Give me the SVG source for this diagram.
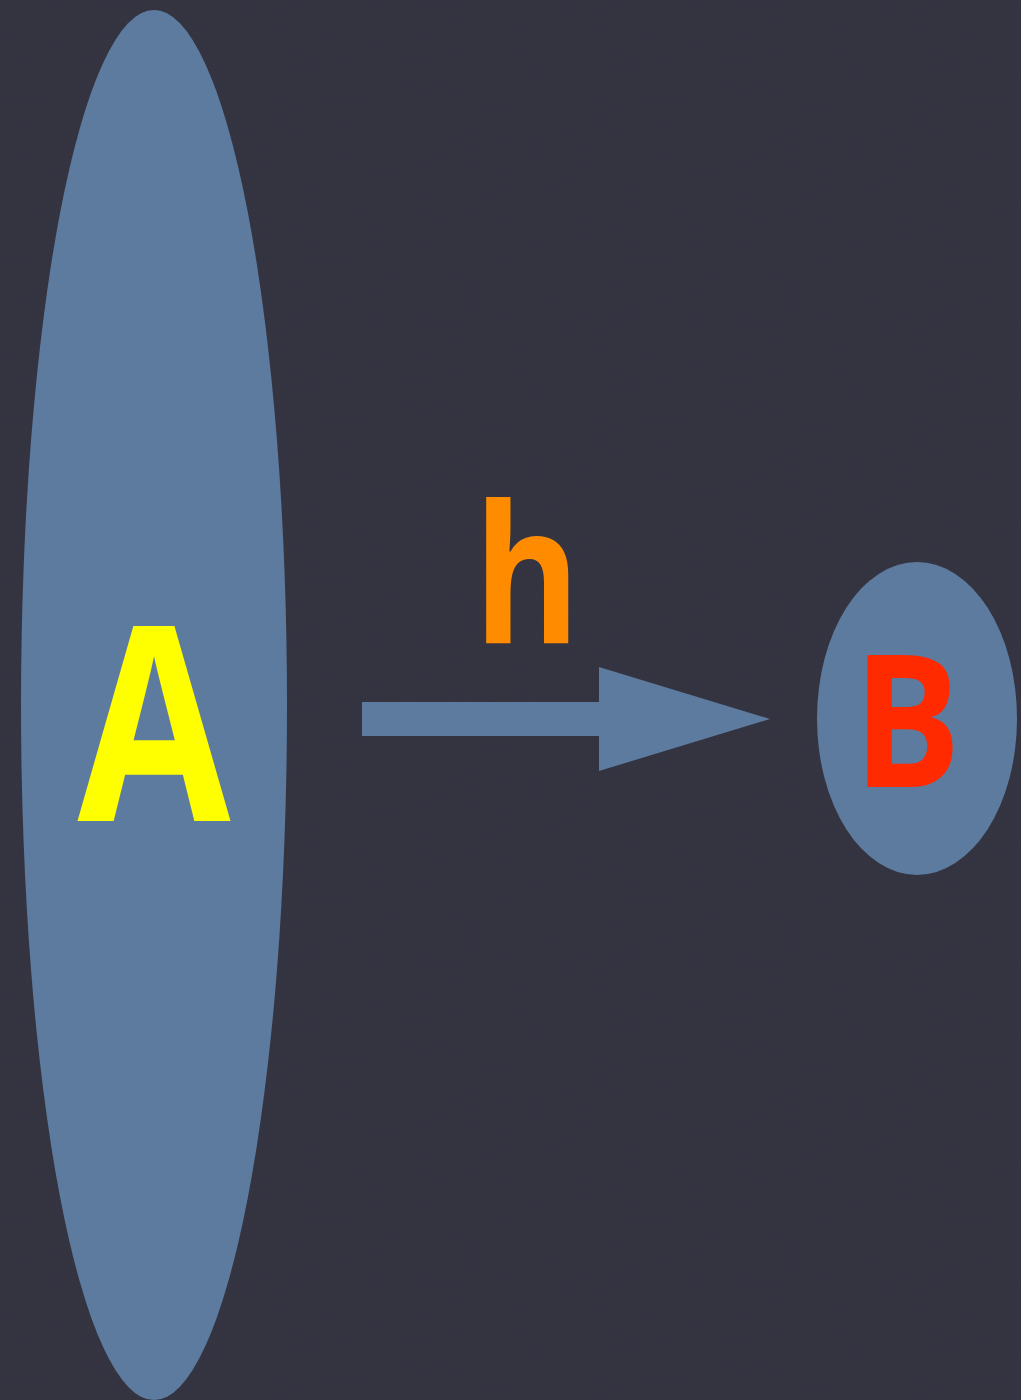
<svg xmlns="http://www.w3.org/2000/svg" width="1021" height="1400" viewBox="0 0 1021 1400">
<style>
.node{fill:#5d7b9e}
.lbl{font-family:"Open Sans","Liberation Sans",sans-serif;font-weight:bold;text-anchor:middle}
</style>
<defs>
<filter id="grain" x="0" y="0" width="100%" height="100%">
<feTurbulence type="fractalNoise" baseFrequency="0.8" numOctaves="2" seed="3"/>
<feColorMatrix type="matrix" values="0 0 0 0 0  0 0 0 0 0  0 0 0 0 0  0 0 0 0.08 0"/>
</filter>
</defs>
<rect width="1021" height="1400" fill="#363644"/>
<rect width="1021" height="1400" filter="url(#grain)"/>
<g id="connectors">
<path class="node" d="M362,702 L599,702 L599,667 L770,719 L599,771 L599,736 L362,736 Z"/>
<text class="lbl" x="527" y="643" font-size="192" fill="#ff8c00" textLength="107" lengthAdjust="spacingAndGlyphs">h</text>
</g>
<g id="nodeA">
<ellipse class="node" cx="154" cy="705" rx="133" ry="695"/>
<text class="lbl" x="154" y="821" font-size="272" fill="#ffff00" textLength="153" lengthAdjust="spacingAndGlyphs">A</text>
</g>
<g id="nodeB">
<ellipse class="node" cx="917" cy="718.5" rx="100" ry="156.5"/>
<text class="lbl" x="907" y="787" font-size="185" fill="#ff2a00" textLength="108" lengthAdjust="spacingAndGlyphs">B</text>
</g>
</svg>
